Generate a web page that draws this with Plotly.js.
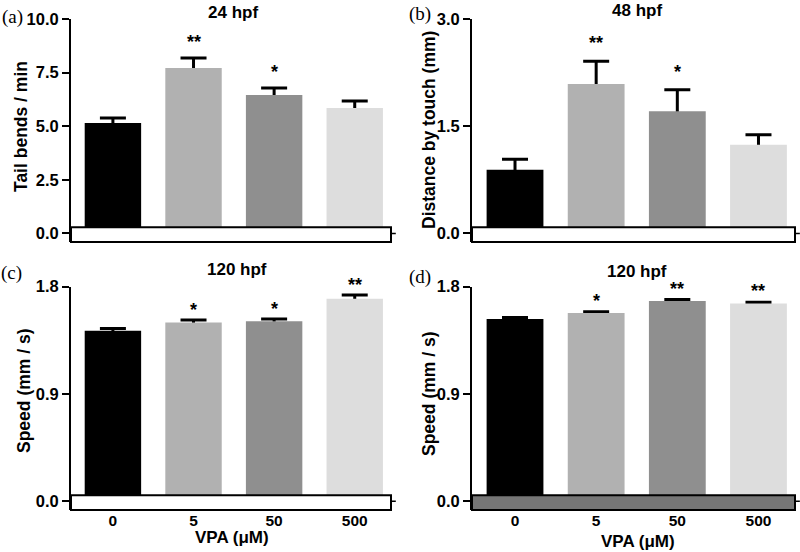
<!DOCTYPE html>
<html>
<head>
<meta charset="utf-8">
<script src="https://cdn.plot.ly/plotly-3.0.1.min.js"></script>
<style>
  html, body { margin: 0; padding: 0; background: #fff; }
  #graph { width: 800px; height: 552px; }
</style>
</head>
<body>
<div id="graph"></div>
<script>
// VPA concentrations (uM)
let categories = ["0", "5", "50", "500"];

// (a) 24 hpf tail bends / min
let meanA = [5.15, 7.72, 6.46, 5.85];
let errA = [0.23, 0.46, 0.32, 0.33];
let sigA = ["", "**", "*", ""];

// (b) 48 hpf distance by touch (mm)
let meanB = [0.89, 2.09, 1.71, 1.24];
let errB = [0.15, 0.32, 0.30, 0.14];
let sigB = ["", "**", "*", ""];

// (c) 120 hpf speed (mm / s)
let meanC = [1.43, 1.50, 1.51, 1.70];
let errC = [0.02, 0.02, 0.02, 0.03];
let sigC = ["", "*", "*", "**"];

// (d) 120 hpf speed (mm / s)
let meanD = [1.53, 1.58, 1.68, 1.66];
let errD = [0.012, 0.01, 0.012, 0.01];
let sigD = ["", "*", "**", "**"];

let barColors = ["#000000", "#b1b1b1", "#8f8f8f", "#dddddd"];
let fontFam = "Liberation Sans, Arial, sans-serif";

let panels = [
    {x: "x", y: "y", mean: meanA, err: errA, sig: sigA, starShift: 4, box: "#ffffff"},
    {x: "x2", y: "y2", mean: meanB, err: errB, sig: sigB, starShift: 6, box: "#ffffff"},
    {x: "x3", y: "y3", mean: meanC, err: errC, sig: sigC, starShift: -2, box: "#ffffff"},
    {x: "x4", y: "y4", mean: meanD, err: errD, sig: sigD, starShift: -1, box: "#767676"}
];

let data = [];
let annotations = [];
let shapes = [];

panels.forEach(function(p) {
    // invisible bars carrying the error bars, drawn under the real bars
    data.push({
        type: "bar",
        x: categories,
        y: p.mean,
        xaxis: p.x,
        yaxis: p.y,
        width: 0.7,
        marker: {color: "rgba(0,0,0,0)", line: {width: 0}},
        error_y: {type: "data", array: p.err, symmetric: true, color: "#000000", thickness: 3, width: 13},
        hoverinfo: "skip",
        showlegend: false
    });
    data.push({
        type: "bar",
        x: categories,
        y: p.mean,
        xaxis: p.x,
        yaxis: p.y,
        width: 0.7,
        marker: {color: barColors, line: {width: 0}},
        showlegend: false
    });

    // significance stars, x given as category index
    for (let i = 0; i < categories.length; i++) {
        if (p.sig[i] !== "") {
            annotations.push({
                xref: p.x, yref: p.y,
                x: i, y: p.mean[i] + p.err[i],
                yanchor: "bottom", yshift: p.starShift,
                text: p.sig[i], showarrow: false,
                font: {family: fontFam, size: 18, weight: "bold", color: "#000"}
            });
        }
    }

    let xd = p.x === "x" ? "x domain" : p.x + " domain";
    let yd = p.y === "y" ? "y domain" : p.y + " domain";
    // baseline box
    shapes.push({
        type: "rect", xref: xd, yref: yd,
        x0: 0, x1: 1, y0: 0, y1: 0.066,
        fillcolor: p.box, line: {color: "#000", width: 2}, layer: "above"
    });
    // little tick on the right at zero
    shapes.push({
        type: "line", xref: xd, yref: p.y,
        x0: 1, x1: 1.015, y0: 0, y1: 0,
        line: {color: "#000", width: 1.5}, layer: "above"
    });
});

function yAxis(domain, range, dtick) {
    return {
        domain: domain,
        range: range,
        tick0: 0,
        dtick: dtick,
        tickformat: ".1f",
        ticks: "outside",
        ticklen: 7,
        tickwidth: 2,
        tickcolor: "#000",
        showline: true,
        linecolor: "#000",
        linewidth: 2,
        showgrid: false,
        zeroline: false,
        tickfont: {family: fontFam, size: 16.5, weight: "bold", color: "#000"}
    };
}

function xAxis(domain, range, anchor, labels) {
    return {
        domain: domain,
        range: range,
        anchor: anchor,
        type: "category",
        showline: false,
        showgrid: false,
        zeroline: false,
        ticks: "",
        showticklabels: labels,
        tickfont: {family: fontFam, size: 15.5, weight: "bold", color: "#000"}
    };
}

let topRow = [0.5616, 0.9656];
let botRow = [0.0761, 0.4806];
let leftCol = [0.08875, 0.48875];
let rightCol = [0.59, 0.99375];

function txt(text, x, y, size, opts) {
    let a = {
        xref: "paper", yref: "paper",
        x: x / 800, y: 1 - y / 552,
        xanchor: "center", yanchor: "middle",
        text: text, showarrow: false,
        font: {family: fontFam, size: size, weight: "bold", color: "#000"}
    };
    return Object.assign(a, opts || {});
}

annotations.push(txt("24 hpf", 233, 13, 17));
annotations.push(txt("48 hpf", 637, 11, 17));
annotations.push(txt("120 hpf", 237, 269, 17));
annotations.push(txt("120 hpf", 637, 271, 17));

annotations.push(txt("Tail bends / min", 21, 127, 17.5, {textangle: -90}));
annotations.push(txt("Distance by touch (mm)", 429, 130, 17.5, {textangle: -90}));
annotations.push(txt("Speed (mm / s)", 24, 391, 17.5, {textangle: -90}));
annotations.push(txt("Speed (mm / s)", 429, 394, 17.5, {textangle: -90}));

annotations.push(txt("VPA (\u03bcM)", 232, 537, 17));
annotations.push(txt("VPA (\u03bcM)", 638, 541, 17));

let serif = {family: "Liberation Serif, Times New Roman, serif", size: 19, weight: "normal", color: "#000"};
annotations.push(txt("(a)", 12, 17, 19, {font: serif}));
annotations.push(txt("(b)", 420, 14, 19, {font: serif}));
annotations.push(txt("(c)", 11, 273, 19, {font: serif}));
annotations.push(txt("(d)", 420, 277, 19, {font: serif}));

let layout = {
    width: 800,
    height: 552,
    margin: {l: 0, r: 0, t: 0, b: 0},
    paper_bgcolor: "#ffffff",
    plot_bgcolor: "rgba(0,0,0,0)",
    barmode: "overlay",
    showlegend: false,
    xaxis: xAxis(leftCol, [-0.52, 3.45], "y", false),
    yaxis: Object.assign(yAxis(topRow, [-0.396, 10], 2.5), {anchor: "x"}),
    xaxis2: xAxis(rightCol, [-0.53, 3.45], "y2", false),
    yaxis2: Object.assign(yAxis(topRow, [-0.119, 3], 1.5), {anchor: "x2"}),
    xaxis3: xAxis(leftCol, [-0.52, 3.45], "y3", true),
    yaxis3: Object.assign(yAxis(botRow, [-0.073, 1.8], 0.9), {anchor: "x3"}),
    xaxis4: xAxis(rightCol, [-0.53, 3.45], "y4", true),
    yaxis4: Object.assign(yAxis(botRow, [-0.073, 1.8], 0.9), {anchor: "x4"}),
    annotations: annotations,
    shapes: shapes
};

Plotly.newPlot("graph", data, layout, {displayModeBar: false, staticPlot: true});
</script>
</body>
</html>
